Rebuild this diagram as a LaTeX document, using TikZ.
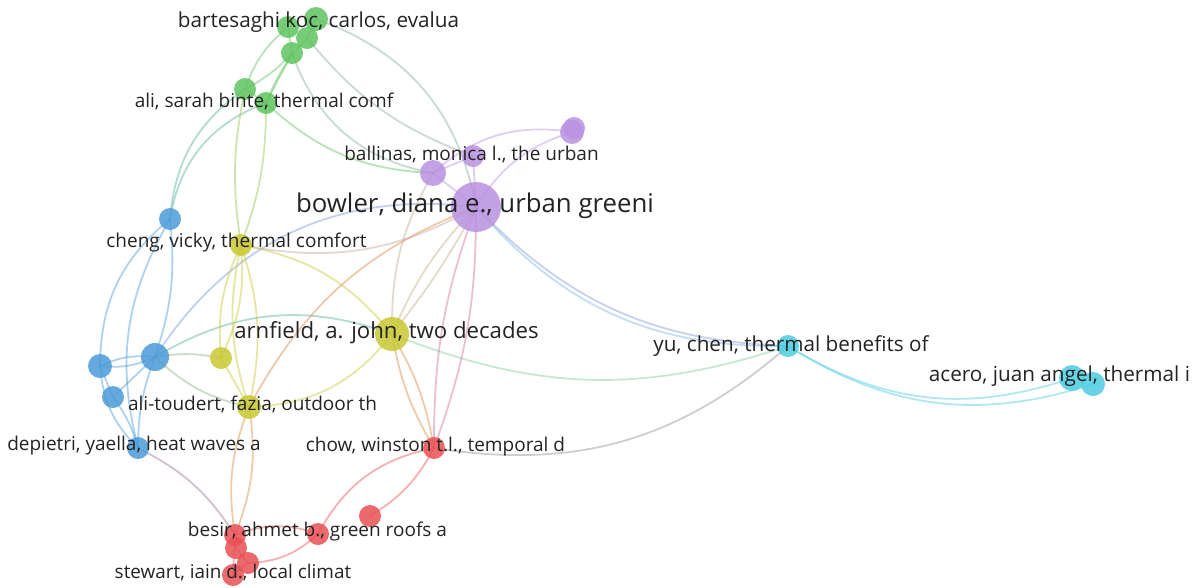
\documentclass[tikz,border=0pt]{standalone}
\usepackage{fontspec}
\setmainfont{Open Sans}
\definecolor{cg}{RGB}{95,195,95}
\definecolor{cb}{RGB}{75,155,215}
\definecolor{cy}{RGB}{200,200,50}
\definecolor{cp}{RGB}{185,145,225}
\definecolor{cr}{RGB}{232,80,85}
\definecolor{cc}{RGB}{75,205,225}
\definecolor{txt}{RGB}{35,35,35}
\tikzset{
  vnode/.style={circle, inner sep=0pt, fill opacity=0.85, draw=none},
  ed/.style={line width=1.8pt, draw opacity=0.45, line cap=round},
  lab/.style={text=txt, inner sep=0pt, font=\fontsize{19}{22}\selectfont},
  labm/.style={lab, font=\fontsize{20.7}{23}\selectfont},
}
\begin{document}
\begin{tikzpicture}[x=1pt,y=-1pt]
\useasboundingbox (0,0) rectangle (1197,587);
% ---- node coordinates ----
\foreach \n/\x/\y/\r/\c in {
 g1/316/19/12/cg, g2/288/27/11/cg, g3/307/38/11/cg, g4/292/53/11/cg, g5/245/89/11/cg, g6/266/103/11/cg,
 p1/476/207/25/cp, p2/433/173/13/cp, p3/473/156/11/cp, p4/572/132/12/cp, p5/574/128/11/cp,
 b1/170/219/11/cb, b2/155/357/14/cb, b3/100/366/12/cb, b4/113/397/11/cb, b5/138/448/11/cb,
 y1/241/245/11/cy, y2/392/334/17/cy, y3/221/358/11/cy, y4/249/407/12/cy,
 r1/434/448/11/cr, r2/370/516/11/cr, r3/318/534/11/cr, r4/235/535/11/cr, r5/236/548/11/cr, r6/248/563/11/cr, r7/233/575/11/cr,
 c1/788/346/11/cc, c2/1072/378/13/cc, c3/1093/384/12/cc}
 {\coordinate (\n) at (\x,\y);}
% ---- edges ----
\foreach \a/\b/\c/\ang in {
 g2/g5/cg/-15, g4/g5/cg/10, g4/g6/cg/0, g3/g6/cg/-10, g2/g4/cg/0, g1/g3/cg/0, g5/g6/cg/0,
 g4/p2/cg!55!cp/-30, g6/p2/cg/-20, g3/p3/cg!45!cp/-15, g1/p1/cg!55!cp/30,
 g5/b1/cg!50!cb/-25, g6/b1/cg!50!cb/-30, g5/y1/cg!50!cy/-10, g6/y1/cg!50!cy/10,
 b1/b3/cb/-25, b1/b2/cb/12, b1/b5/cb/-22, b2/b3/cb/15, b2/b3/cb/-15, b2/b4/cb/0, b2/b5/cb/-10,
 b3/b4/cb/0, b3/b5/cb/-20, b4/b5/cb/10,
 b2/y3/cb!50!cy/10, b2/y4/cb!50!cy/-15, b2/y2/cb!50!cg/25, b2/p1/cb!60!cp/32, b5/r4/cb!50!cr/15,
 y1/y3/cy/15, y1/y3/cy/-15, y1/y4/cy/15, y1/y4/cy/-15, y1/y2/cy/20, y3/y4/cy/0,
 y4/y2/cy/-25, y4/p1/cy!45!cr/20, y1/p1/cy!40!cp/-20, y2/p1/cy!55!cp/10, y2/p1/cy!55!cp/-5,
 y2/c1/cy!40!cc/-20, y2/r1/cy!50!cr/10, y2/r1/cy!50!cr/-10, y4/r4/cy!50!cr/15, y4/r4/cy!50!cr/-15,
 p2/y2/cp!50!cy/-15,
 p1/p2/cp/0, p1/p3/cp/0, p1/p4/cp/20, p2/p4/cp/25, p2/p3/cp/0,
 p1/c1/cp!50!cb/-22, p1/c1/cp!40!cc/-25, p1/r1/cp!50!cr/10, p1/r1/cp!50!cr/-10,
 r1/r2/cr/15, r1/r3/cr/-25, r1/c1/cr!50!cc/-25, r3/r4/cr/-20, r3/r6/cr/20,
 r4/r5/cr/0, r5/r6/cr/0, r6/r7/cr/0, r4/r7/cr/0,
 c1/c2/cc/-25, c1/c3/cc/-25}
 {\draw[ed, draw=\c] (\a) to[bend left=\ang] (\b);}
% ---- circles ----
\foreach \n/\x/\y/\r/\c in {
 g1/316/19/12/cg, g2/288/27/11/cg, g3/307/38/11/cg, g4/292/53/11/cg, g5/245/89/11/cg, g6/266/103/11/cg,
 p1/476/207/25/cp, p2/433/173/13/cp, p3/473/156/11/cp, p4/572/132/12/cp, p5/574/128/11/cp,
 b1/170/219/11/cb, b2/155/357/14/cb, b3/100/366/12/cb, b4/113/397/11/cb, b5/138/448/11/cb,
 y1/241/245/11/cy, y2/392/334/17/cy, y3/221/358/11/cy, y4/249/407/12/cy,
 r1/434/448/11/cr, r2/370/516/11/cr, r3/318/534/11/cr, r4/235/535/11/cr, r5/236/548/11/cr, r6/248/563/11/cr, r7/233/575/11/cr,
 c1/788/346/11/cc, c2/1072/378/13/cc, c3/1093/384/12/cc}
 {\node[vnode, fill=\c, minimum size=2*\r pt] (n\n) at (\x,\y) {};}
% ---- labels ----
\node[labm] (lg1) at (318.5,22) {bartesaghi koc, carlos, evalua};
\node[lab] (lg6) at (264,101) {ali, sarah binte, thermal comf};
\node[lab] (lp3) at (471.5,155) {ballinas, monica l., the urban};
\node[lab, font=\fontsize{25.8}{29}\selectfont] (lp1) at (475,206) {bowler, diana e., urban greeni};
\node[lab] (ly1) at (236.5,243) {cheng, vicky, thermal comfort};
\node[lab, font=\fontsize{22.2}{25}\selectfont] (ly2) at (386.5,333) {arnfield, a. john, two decades};
\node[labm] (lc1) at (791,346) {yu, chen, thermal benefits of};
\node[labm] (lc2) at (1059.5,376) {acero, juan angel, thermal i};
\node[lab] (ly4) at (252.5,404) {ali-toudert, fazia, outdoor th};
\node[lab] (lb5) at (134,446) {depietri, yaella, heat waves a};
\node[lab] (lr1) at (435.5,447) {chow, winston t.l., temporal d};
\node[lab] (lr3) at (317.5,532) {besir, ahmet b., green roofs a};
\node[lab, font=\fontsize{18.9}{22}\selectfont] (lr7) at (233,573) {stewart, iain d., local climat};
\end{tikzpicture}
\end{document}
